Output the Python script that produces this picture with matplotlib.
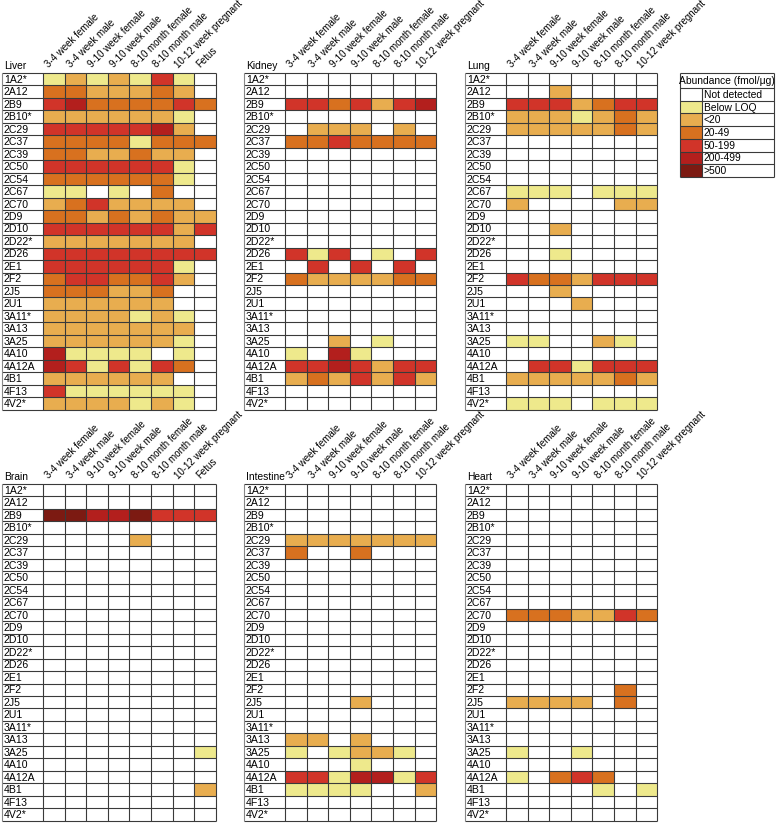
import numpy as np
import matplotlib
matplotlib.use("Agg")
import matplotlib.pyplot as plt
from matplotlib.colors import ListedColormap, BoundaryNorm

plt.rcParams['font.family'] = ['Liberation Sans', 'DejaVu Sans']

# 0 not detected, 1 below LOQ, 2 <20, 3 20-49, 4 50-199, 5 200-499, 6 >500
genes = ['1A2*', '2A12', '2B9', '2B10*', '2C29', '2C37', '2C39', '2C50', '2C54',
         '2C67', '2C70', '2D9', '2D10', '2D22*', '2D26', '2E1', '2F2', '2J5',
         '2U1', '3A11*', '3A13', '3A25', '4A10', '4A12A', '4B1', '4F13', '4V2*']

groups8 = ['3-4 week female', '3-4 week male', '9-10 week female', '9-10 week male',
           '8-10 month female', '8-10 month male', '10-12 week pregnant', 'Fetus']
groups7 = groups8[:7]

legend_labels = ['Not detected', 'Below LOQ', '<20', '20-49', '50-199', '200-499', '>500']
level_colors = ['#ffffff', '#eee98c', '#e8ad4f', '#d8711f', '#d13429', '#b31f1d', '#7c1a12']

liver = [
    [1, 2, 1, 2, 1, 4, 1, 0],
    [3, 3, 2, 2, 2, 3, 2, 0],
    [4, 5, 3, 3, 3, 3, 4, 3],
    [2, 2, 2, 2, 2, 2, 1, 0],
    [4, 4, 4, 4, 4, 5, 2, 0],
    [3, 3, 3, 3, 1, 3, 3, 3],
    [3, 3, 2, 2, 3, 2, 2, 0],
    [4, 4, 4, 4, 4, 4, 1, 0],
    [3, 3, 3, 3, 3, 3, 1, 0],
    [1, 1, 0, 1, 0, 3, 0, 0],
    [2, 3, 4, 2, 2, 2, 2, 0],
    [3, 3, 2, 3, 2, 3, 2, 2],
    [4, 4, 4, 4, 4, 4, 2, 4],
    [2, 2, 2, 2, 2, 2, 2, 0],
    [4, 4, 4, 4, 4, 4, 4, 4],
    [4, 4, 4, 4, 4, 4, 1, 0],
    [3, 4, 4, 3, 3, 4, 2, 0],
    [3, 3, 3, 2, 2, 3, 0, 0],
    [2, 2, 2, 2, 2, 2, 0, 0],
    [2, 2, 2, 2, 1, 2, 1, 0],
    [2, 2, 2, 2, 2, 2, 2, 0],
    [2, 2, 2, 2, 2, 2, 1, 0],
    [5, 1, 1, 1, 1, 0, 1, 0],
    [5, 4, 1, 4, 1, 4, 3, 0],
    [2, 2, 2, 2, 2, 2, 0, 0],
    [4, 1, 1, 1, 1, 1, 1, 0],
    [2, 2, 2, 2, 1, 2, 1, 0],
]

kidney = [
    [0, 0, 0, 0, 0, 0, 0],
    [0, 0, 0, 0, 0, 0, 0],
    [4, 4, 3, 4, 2, 4, 5],
    [0, 0, 0, 0, 0, 0, 0],
    [0, 2, 2, 2, 0, 2, 0],
    [3, 3, 4, 3, 3, 3, 3],
    [0, 0, 0, 0, 0, 0, 0],
    [0, 0, 0, 0, 0, 0, 0],
    [0, 0, 0, 0, 0, 0, 0],
    [0, 0, 0, 0, 0, 0, 0],
    [0, 0, 0, 0, 0, 0, 0],
    [0, 0, 0, 0, 0, 0, 0],
    [0, 0, 0, 0, 0, 0, 0],
    [0, 0, 0, 0, 0, 0, 0],
    [4, 1, 4, 0, 1, 0, 4],
    [0, 4, 0, 4, 0, 4, 0],
    [3, 2, 2, 2, 2, 3, 3],
    [0, 0, 0, 0, 0, 0, 0],
    [0, 0, 0, 0, 0, 0, 0],
    [0, 0, 0, 0, 0, 0, 0],
    [0, 0, 0, 0, 0, 0, 0],
    [0, 0, 2, 0, 1, 0, 0],
    [1, 0, 5, 1, 0, 0, 0],
    [4, 4, 5, 4, 2, 4, 4],
    [2, 3, 2, 4, 2, 4, 2],
    [0, 0, 0, 0, 0, 0, 0],
    [0, 0, 0, 0, 0, 0, 0],
]

lung = [
    [0, 0, 0, 0, 0, 0, 0],
    [0, 0, 2, 0, 0, 0, 0],
    [4, 4, 4, 2, 3, 4, 4],
    [2, 2, 2, 1, 2, 3, 2],
    [2, 2, 2, 2, 2, 3, 2],
    [0, 0, 0, 0, 0, 0, 0],
    [0, 0, 0, 0, 0, 0, 0],
    [0, 0, 0, 0, 0, 0, 0],
    [0, 0, 0, 0, 0, 0, 0],
    [1, 1, 1, 0, 1, 1, 1],
    [2, 0, 0, 0, 0, 2, 2],
    [0, 0, 0, 0, 0, 0, 0],
    [0, 0, 2, 0, 0, 0, 0],
    [0, 0, 0, 0, 0, 0, 0],
    [0, 0, 1, 0, 0, 0, 0],
    [0, 0, 0, 0, 0, 0, 0],
    [4, 3, 3, 2, 4, 4, 4],
    [0, 0, 2, 0, 0, 0, 0],
    [0, 0, 0, 2, 0, 0, 0],
    [0, 0, 0, 0, 0, 0, 0],
    [0, 0, 0, 0, 0, 0, 0],
    [1, 1, 0, 0, 2, 1, 0],
    [0, 0, 0, 0, 0, 0, 0],
    [0, 4, 4, 1, 4, 4, 4],
    [2, 2, 2, 2, 2, 3, 2],
    [0, 0, 0, 0, 0, 0, 0],
    [1, 1, 1, 0, 1, 1, 1],
]

brain = np.zeros((27, 8), dtype=int)
brain[2] = [6, 6, 5, 5, 6, 4, 4, 4]
brain[4] = [0, 0, 0, 0, 2, 0, 0, 0]
brain[21] = [0, 0, 0, 0, 0, 0, 0, 1]
brain[24] = [0, 0, 0, 0, 0, 0, 0, 2]

intestine = np.zeros((27, 7), dtype=int)
intestine[4] = [2, 2, 2, 2, 2, 2, 2]
intestine[5] = [3, 0, 0, 3, 0, 0, 0]
intestine[17] = [0, 0, 0, 2, 0, 0, 0]
intestine[20] = [2, 2, 0, 2, 0, 0, 0]
intestine[21] = [1, 0, 1, 2, 2, 1, 0]
intestine[22] = [0, 0, 0, 1, 0, 0, 0]
intestine[23] = [4, 4, 1, 5, 5, 1, 4]
intestine[24] = [1, 1, 1, 1, 0, 0, 2]

heart = np.zeros((27, 7), dtype=int)
heart[10] = [3, 3, 3, 2, 2, 4, 3]
heart[16] = [0, 0, 0, 0, 0, 3, 0]
heart[17] = [2, 2, 2, 2, 0, 3, 0]
heart[21] = [1, 0, 0, 1, 0, 0, 0]
heart[23] = [1, 0, 3, 4, 3, 0, 0]
heart[24] = [0, 0, 0, 0, 1, 0, 1]

cmap = ListedColormap(level_colors)
norm = BoundaryNorm(np.arange(-0.5, 7.5, 1), cmap.N)

W, H = 777, 823
fig = plt.figure(figsize=(W / 100, H / 100), dpi=100, facecolor='white')

COLW = 21.6   # px per column
ROWH = 12.47  # px per row
LABW = 41.0   # px label column
LINE = '#3a3a3a'


def add_px_axes(x0, y0, w, h):
    return fig.add_axes([x0 / W, 1 - (y0 + h) / H, w / W, h / H])


def panel(x0, y0, title, data, cols):
    data = np.asarray(data)
    nr, nc = data.shape
    lw = LABW / COLW
    ax = add_px_axes(x0, y0, LABW + nc * COLW, nr * ROWH)
    ax.pcolormesh(np.arange(nc + 1), np.arange(nr + 1), data, cmap=cmap, norm=norm)
    ax.set_xlim(-lw, nc)
    ax.set_ylim(nr, 0)
    ax.axis('off')
    ax.hlines(np.arange(nr + 1), -lw, nc, color=LINE, lw=0.8, clip_on=False)
    ax.vlines(np.arange(nc + 1), 0, nr, color=LINE, lw=0.8, clip_on=False)
    ax.vlines(-lw, 0, nr, color='#888888', lw=0.8, clip_on=False)
    for i, g in enumerate(genes):
        ax.text(-lw + 0.08, i + 0.55, g, ha='left', va='center', fontsize=7.6, clip_on=False)
    ax.text(-lw + 0.08, -0.15, title, ha='left', va='bottom', fontsize=7.4, clip_on=False)
    for j, c in enumerate(cols):
        ax.text(j + 0.35, -0.25, c, rotation=45, rotation_mode='anchor',
                ha='left', va='bottom', fontsize=7, clip_on=False)
    return ax


panel(2, 73, 'Liver', liver, groups8)
panel(244, 73, 'Kidney', kidney, groups7)
panel(465, 73, 'Lung', lung, groups7)
panel(2, 484, 'Brain', brain, groups8)
panel(244, 484, 'Intestine', intestine, groups7)
panel(465, 484, 'Heart', heart, groups7)

# legend box
lg_w, sw_w, hd_h, lr_h = 94, 22, 15, 12.7
lax = add_px_axes(680, 73, lg_w, hd_h + 7 * lr_h)
hd = hd_h / sw_w
lax.pcolormesh([0, 1], np.arange(8) * lr_h / sw_w, np.arange(7).reshape(-1, 1), cmap=cmap, norm=norm)
ymax = 7 * lr_h / sw_w
xmax = lg_w / sw_w
lax.set_xlim(0, xmax)
lax.set_ylim(ymax, -hd)
lax.axis('off')
lax.hlines(np.arange(8) * lr_h / sw_w, 0, xmax, color=LINE, lw=0.8, clip_on=False)
lax.hlines(-hd, 0, xmax, color=LINE, lw=0.8, clip_on=False)
lax.vlines([0, xmax], -hd, ymax, color=LINE, lw=0.8, clip_on=False)
lax.vlines(1, 0, ymax, color=LINE, lw=0.8, clip_on=False)
lax.text(xmax / 2, -hd / 2, 'Abundance (fmol/\u03bcg)', ha='center', va='center', fontsize=7.4)
for k, lab in enumerate(legend_labels):
    lax.text(1.08, (k + 0.55) * lr_h / sw_w, lab, ha='left', va='center', fontsize=7.4)

fig.savefig('out.png', dpi=100, facecolor='white')
